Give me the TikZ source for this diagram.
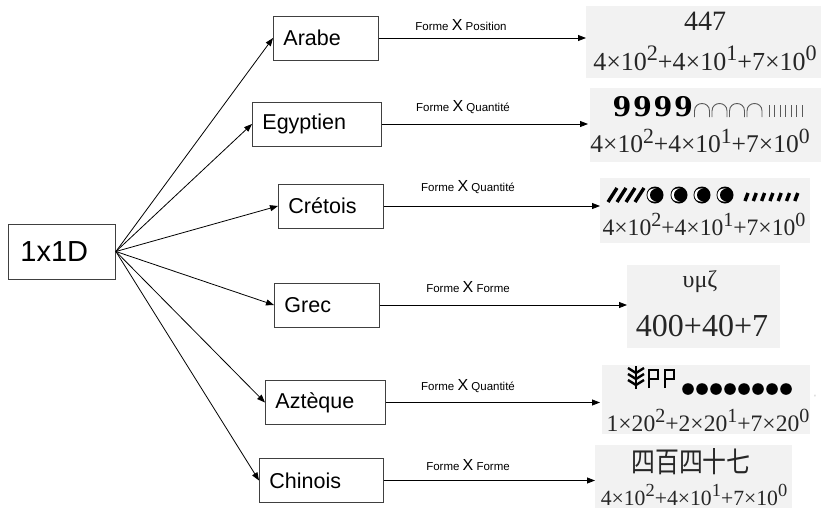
\documentclass[tikz,border=0pt]{standalone}
\usepackage{fontspec}
\setmainfont{Liberation Sans}
\newfontfamily\numserif{Liberation Serif}
\newfontfamily\ninefont{DejaVu Serif}
\newfontfamily\cjk{Noto Sans CJK SC}
\usetikzlibrary{arrows.meta}
\newcommand\ex[1]{\raisebox{0.38em}{\scalebox{0.85}{#1}}}
\newcommand\fs[1]{\fontsize{#1}{#1}\selectfont}
\tikzset{
  box/.style={draw=black!75, line width=0.9pt, minimum height=44pt, inner xsep=10pt, inner ysep=0pt, align=left, anchor=west, font=\fs{21.5}},
  conn/.style={-{Triangle[length=8pt,width=6pt]}, line width=0.8pt},
  lbl/.style={inner sep=0pt, font=\fs{11.5}},
  panel/.style={fill=black!5, draw=none},
  formula/.style={inner sep=0pt, text=black!85},
}
\newcommand\lx{{\fs{16}X}}
\begin{document}
\begin{tikzpicture}[x=1pt,y=-1pt]
\useasboundingbox (0,0) rectangle (821,509);

% panels
\fill[panel] (586,6) rectangle (821,78);
\fill[panel] (590,88) rectangle (821,162);
\fill[panel] (600,178) rectangle (810,243);
\fill[panel] (627,265) rectangle (780,348);
\fill[panel] (602,365) rectangle (810,434);
\fill[panel] (595,445) rectangle (792,508);

% boxes
\node[box, minimum height=55pt, inner xsep=12pt, text width=83pt, font=\fs{29}] (src) at (8,251.5) {1x1D};
\node[box, text width=85pt] (arabe) at (273,38) {Arabe};
\node[box, text width=109pt] (egypt) at (252,124) {Egyptien};
\node[box, text width=85pt] (cret) at (278,206) {Crétois};
\node[box, text width=85pt] (grec) at (274,305) {Grec};
\node[box, text width=100pt] (aztec) at (265,402.5) {Aztèque};
\node[box, text width=104pt] (chin) at (259,480.5) {Chinois};

% connectors from source
\foreach \t in {arabe,egypt,cret,grec,aztec,chin}
  \draw[conn] (src.east) -- (\t.west);

% horizontal connectors
\coordinate (ta) at (586,38);
\coordinate (te) at (588,124);
\coordinate (tc) at (600,206);
\coordinate (tg) at (627,305);
\coordinate (tz) at (600,402.5);
\coordinate (tch) at (595,480.5);
\draw[conn] (arabe.east) -- (ta);
\draw[conn] (egypt.east) -- (te);
\draw[conn] (cret.east) -- (tc);
\draw[conn] (grec.east) -- (tg);
\draw[conn] (aztec.east) -- (tz);
\draw[conn] (chin.east) -- (tch);

% labels
\node[lbl] (la) at (461,25) {Forme \lx{} Position};
\node[lbl] (le) at (463,107) {Forme \lx{} Quantité};
\node[lbl] (lc) at (468,187) {Forme \lx{} Quantité};
\node[lbl] (lg) at (468,287) {Forme \lx{} Forme};
\node[lbl] (lz) at (468,386) {Forme \lx{} Quantité};
\node[lbl] (lch) at (468,465) {Forme \lx{} Forme};

% Arabe
\node[formula, font=\numserif\fs{28}] (a1) at (705,21) {447};
\node[formula, font=\numserif\fs{26}] (a2) at (705,58) {4×10\ex{2}+4×10\ex{1}+7×10\ex{0}};

% Egyptien
\foreach \i in {0,1,2,3}
  \node[inner sep=0pt, font=\ninefont\bfseries\fs{27}] at (622+\i*20.5,107) {9};
\foreach \i in {0,1,2,3} {
  \pgfmathsetmacro\cx{702+\i*17.5}
  \draw[black!65, line width=0.9pt] (\cx-7.5,117) -- (\cx-7.5,111) .. controls (\cx-7.5,101) and (\cx+7.5,101) .. (\cx+7.5,111) -- (\cx+7.5,117);
}
\foreach \i in {0,...,6}
  \draw[black!65, line width=0.9pt] (769+\i*5.5,105) -- (769+\i*5.5,117);
\node[formula, font=\numserif\fs{25.5}] (e2) at (700,141) {4×10\ex{2}+4×10\ex{1}+7×10\ex{0}};

% Cretois
\foreach \i in {0,1,2,3}
  \draw[line width=3.4pt] (608+\i*9,202) -- (617+\i*9,188);
\foreach \c in {655,679,702,725} {
  \fill (\c,195) circle (8.5);
  \fill[white] (\c-1,195) circle (6.6);
  \fill (\c+1.3,195) circle (6.3);
}
\foreach \i in {0,...,6}
  \draw[line width=3.4pt] (745+\i*8.3,201) -- (748+\i*8.3,193);
\node[formula, font=\numserif\fs{23.6}] (c2) at (704,224) {4×10\ex{2}+4×10\ex{1}+7×10\ex{0}};

% Grec
\node[formula, font=\numserif\fs{24}] (g1) at (700,282) {υμζ};
\node[formula, font=\numserif\fs{32}] (g2) at (702,326) {400+40+7};

% Azteque
\draw[line width=2.6pt] (636,389) -- (636,366);
\foreach \y in {368,374,380}
  \draw[line width=2.4pt] (628,\y) -- (636,\y+5) -- (644,\y);
\foreach \x in {649,665} {
  \draw[line width=2.8pt] (\x,388) -- (\x,369);
  \draw[line width=2.8pt] (\x,370) rectangle (\x+9,379);
}
\foreach \i in {0,...,7}
  \fill (688+\i*14,389) circle (5.8);
\node[formula, font=\numserif\fs{23.6}] (z2) at (708,420) {1×20\ex{2}+2×20\ex{1}+7×20\ex{0}};
\node[formula, font=\numserif\fs{8}, text=black!40] (tick) at (815,398) {'};

% Chinois
\node[formula, font=\cjk\fs{26}] (h1) at (691,462) {\scalebox{0.92}[1.1]{四百四十七}};
\node[formula, font=\numserif\fs{21.7}] (h2) at (694,495) {4×10\ex{2}+4×10\ex{1}+7×10\ex{0}};
\end{tikzpicture}
\end{document}
